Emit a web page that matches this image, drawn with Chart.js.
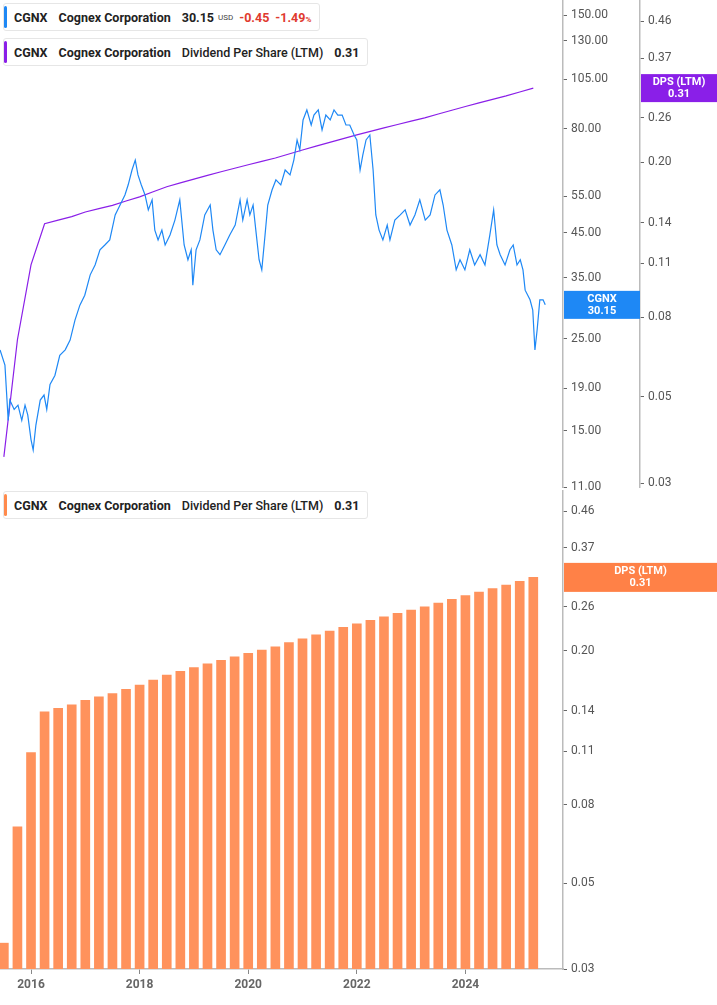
<!DOCTYPE html>
<html><head><meta charset="utf-8">
<script src="https://cdn.jsdelivr.net/npm/chart.js@4"></script>
<style>
body{margin:0;width:717px;height:1005px;background:#fff;font-family:Roboto,Arial,sans-serif;overflow:hidden;position:relative}
canvas{position:absolute;left:0}
.lg{position:absolute;left:3px;height:26px;background:#fff;border:1px solid #e6e6e6;border-radius:3px;display:flex;align-items:center;font-size:12.5px;font-weight:700;color:#222;padding:0 8px 0 10px;white-space:nowrap}
.lg i{position:absolute;left:0;top:2px;bottom:2px;width:3px;border-radius:2px}
.lg span{margin-right:11px}
</style></head><body>
<canvas id="c1" width="717" height="497" style="top:0"></canvas>
<canvas id="c2" width="717" height="515" style="top:490px"></canvas>
<div class="lg" style="top:3px"><i style="background:#1e88f5"></i><span>CGNX</span><span>Cognex Corporation</span><span style="margin-right:4px">30.15</span><span style="font-size:8px;font-weight:400;color:#444;margin-right:6px">USD</span><span style="color:#e03a2e;margin-right:6px">-0.45</span><span style="color:#e03a2e;margin-right:0">-1.49<small style="font-size:8px">%</small></span></div>
<div class="lg" style="top:38px"><i style="background:#8a1fe8"></i><span>CGNX</span><span>Cognex Corporation</span><span style="font-weight:500">Dividend Per Share (LTM)</span><span style="margin-right:0">0.31</span></div>
<div class="lg" style="top:491px"><i style="background:#ff8a4c"></i><span>CGNX</span><span>Cognex Corporation</span><span style="font-weight:500">Dividend Per Share (LTM)</span><span style="margin-right:0">0.31</span></div>
<script>
const priceDates=[2015.43,2015.52,2015.58,2015.61,2015.69,2015.76,2015.83,2015.89,2015.94,2016.00,2016.04,2016.09,2016.17,2016.24,2016.29,2016.35,2016.44,2016.53,2016.63,2016.72,2016.81,2016.90,2016.99,2017.09,2017.18,2017.27,2017.36,2017.45,2017.55,2017.64,2017.73,2017.79,2017.86,2017.92,2017.97,2018.03,2018.10,2018.16,2018.23,2018.28,2018.34,2018.41,2018.47,2018.56,2018.65,2018.74,2018.82,2018.89,2018.95,2018.98,2019.04,2019.11,2019.20,2019.30,2019.35,2019.41,2019.48,2019.57,2019.66,2019.76,2019.85,2019.90,2019.98,2020.03,2020.09,2020.14,2020.20,2020.25,2020.31,2020.36,2020.44,2020.51,2020.60,2020.68,2020.77,2020.84,2020.90,2020.95,2021.01,2021.08,2021.16,2021.21,2021.29,2021.36,2021.43,2021.51,2021.58,2021.65,2021.73,2021.80,2021.87,2021.95,2022.00,2022.06,2022.11,2022.17,2022.24,2022.30,2022.35,2022.41,2022.48,2022.56,2022.61,2022.70,2022.80,2022.89,2022.98,2023.07,2023.16,2023.26,2023.35,2023.44,2023.53,2023.59,2023.66,2023.75,2023.83,2023.90,2023.99,2024.08,2024.17,2024.27,2024.36,2024.45,2024.52,2024.58,2024.64,2024.73,2024.82,2024.88,2024.95,2025.01,2025.06,2025.10,2025.19,2025.24,2025.28,2025.32,2025.37,2025.43,2025.47];
const priceValues=[23.5,21.6,15.9,17.8,16.9,17.3,15.9,17.3,16.4,14.3,13.5,15.5,17.8,18.3,16.9,19.4,20.4,22.8,23.5,24.8,27.7,30.1,31.8,35.6,37.6,40.9,42.0,43.2,49.6,52.4,55.4,58.6,63.6,67.2,61.9,58.6,55.4,51.0,53.9,45.6,43.2,45.6,42.0,44.4,48.2,53.9,42.0,38.7,40.9,33.6,40.9,43.2,49.6,52.4,45.6,40.9,39.8,42.0,44.4,46.9,53.9,48.2,53.9,49.6,52.4,45.6,38.7,36.6,44.4,52.4,57.0,60.2,58.6,63.6,61.9,67.2,75.1,71.1,83.9,88.7,81.6,86.2,88.7,79.4,86.2,83.9,88.7,86.2,86.2,81.6,81.6,77.2,75.1,63.6,69.1,75.1,77.2,63.6,49.6,45.6,43.2,46.9,43.2,48.2,49.6,51.0,46.9,49.6,53.9,48.2,49.6,55.4,57.0,52.4,45.6,42.0,36.6,38.7,36.6,40.9,37.6,39.8,37.6,44.4,51.0,42.0,39.8,37.6,40.9,42.0,37.6,38.7,36.6,32.7,31.0,29.3,23.5,26.2,31.0,31.0,30.15];
const dpsDates=[2015.50,2015.75,2016.00,2016.25,2016.50,2016.75,2017.00,2017.25,2017.50,2017.75,2018.00,2018.25,2018.50,2018.75,2019.00,2019.25,2019.50,2019.75,2020.00,2020.25,2020.50,2020.75,2021.00,2021.25,2021.50,2021.75,2022.00,2022.25,2022.50,2022.75,2023.00,2023.25,2023.50,2023.75,2024.00,2024.25,2024.50,2024.75,2025.00,2025.25];
const dpsValues=[0.035,0.070,0.109,0.139,0.142,0.145,0.149,0.152,0.155,0.159,0.163,0.168,0.173,0.177,0.181,0.185,0.189,0.193,0.197,0.201,0.205,0.210,0.215,0.220,0.225,0.230,0.235,0.240,0.245,0.250,0.255,0.260,0.266,0.272,0.278,0.284,0.290,0.296,0.303,0.310];
const priceTicks=[11,15,19,25,35,45,55,80,105,130,150];
const dpsTicks=[0.03,0.05,0.08,0.11,0.14,0.20,0.26,0.37,0.46];
const yearTicks=[2016,2018,2020,2022,2024];
const X0=2015.429,X1=2025.797;
const tc='#555', ax='#bbb';
function fixTicks(vals){return s=>{s.ticks=vals.map(v=>({value:v}));};}
function fmt2(v){return Number(v).toFixed(2);}
function boxPlugin(id,items){return {id,afterDraw(ch){const c=ch.ctx;items.forEach(it=>{const s=ch.scales[it.scale];const y=s.getPixelForValue(it.value);c.fillStyle=it.color;c.fillRect(it.x,y-it.h/2,it.w,it.h);c.fillStyle='#fff';c.font='bold 11px Roboto';c.textAlign='center';c.textBaseline='middle';c.fillText(it.t1,it.x+it.w/2,y-6);c.fillText(it.t2,it.x+it.w/2,y+6);});}};}
const tickOpts=(vals,f,w)=>({type:'logarithmic',position:'right',afterBuildTicks:fixTicks(vals),afterFit:s=>{s.width=w;s.paddingTop=0;s.paddingBottom=0;},
  grid:{drawOnChartArea:false,drawTicks:true,tickLength:4,color:'#666'},border:{color:ax,width:1.5},
  ticks:{color:tc,font:{family:'Roboto',size:12},padding:4,callback:v=>f(v),autoSkip:false,maxRotation:0}});
new Chart(document.getElementById('c1'),{
  data:{datasets:[
    {type:'line',data:priceDates.map((d,i)=>({x:d,y:priceValues[i]})),borderColor:'#1e88f5',borderWidth:1.2,pointRadius:0,yAxisID:'yp',tension:0},
    {type:'line',data:dpsDates.map((d,i)=>({x:d,y:dpsValues[i]})),borderColor:'#8a1fe8',borderWidth:1.2,pointRadius:0,yAxisID:'yd',tension:0}]},
  options:{responsive:false,animation:false,layout:{padding:{bottom:10}},plugins:{legend:{display:false},tooltip:{enabled:false}},
    scales:{x:{type:'linear',min:X0,max:X1,display:false},
      yp:Object.assign(tickOpts(priceTicks,fmt2,77),{min:11,max:163}),
      yd:Object.assign(tickOpts(dpsTicks,fmt2,77),{min:0.0293,max:0.522})}},
  plugins:[boxPlugin('b1',[{scale:'yp',value:30.15,x:564,w:76,h:28,color:'#1e88f5',t1:'CGNX',t2:'30.15'},{scale:'yd',value:0.31,x:641,w:76,h:28,color:'#8a1fe8',t1:'DPS (LTM)',t2:'0.31'}])]
});
new Chart(document.getElementById('c2'),{
  data:{datasets:[{type:'bar',data:dpsDates.map((d,i)=>({x:d,y:dpsValues[i]})),backgroundColor:'#ff925c',barThickness:9,yAxisID:'y'}]},
  options:{responsive:false,animation:false,layout:{padding:0},plugins:{legend:{display:false},tooltip:{enabled:false}},
    scales:{x:{type:'linear',offset:false,bounds:'ticks',min:X0,max:X1,afterBuildTicks:fixTicks(yearTicks),grid:{offset:false,drawOnChartArea:false,tickLength:5,color:'#888'},border:{color:ax,width:1.5},
        ticks:{color:'#666',font:{family:'Roboto',size:12,weight:'bold'},callback:v=>String(v),padding:4,maxRotation:0,autoSkip:false},afterFit:s=>{s.height=36;s.paddingLeft=0;s.paddingRight=0;}},
      y:Object.assign(tickOpts(dpsTicks,fmt2,154),{min:0.03,max:0.522})}},
  plugins:[boxPlugin('b2',[{scale:'y',value:0.31,x:564,w:153,h:29,color:'#ff8147',t1:'DPS (LTM)',t2:'0.31'}])]
});
</script></body></html>
